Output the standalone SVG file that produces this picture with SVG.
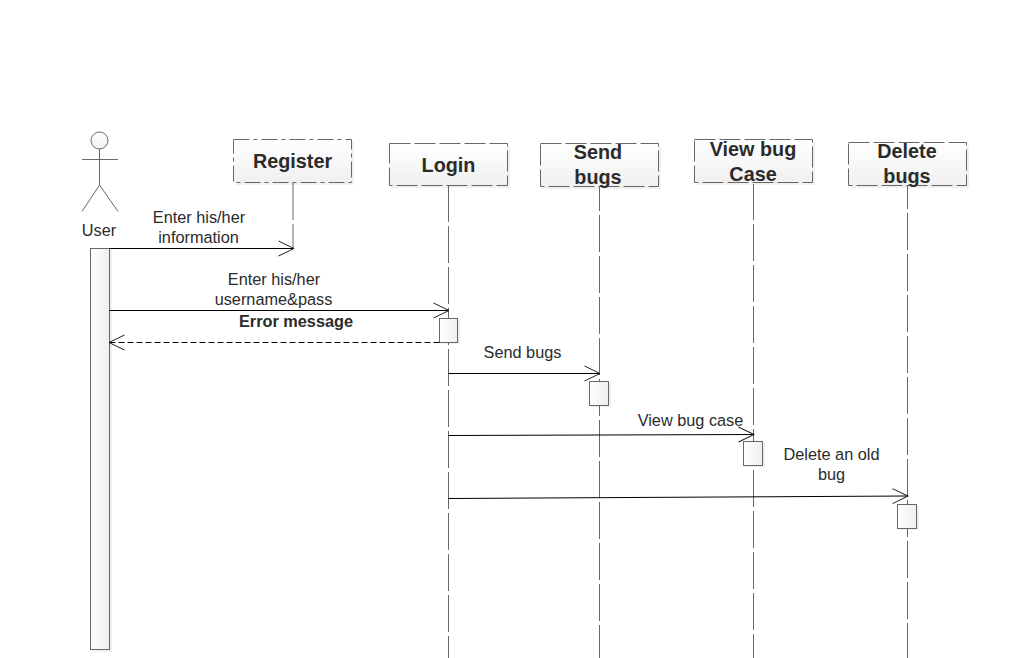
<svg xmlns="http://www.w3.org/2000/svg" width="1036" height="658" viewBox="0 0 1036 658">
<style>
text{font-family:"Liberation Sans",Arial,sans-serif;fill:#2b2b2b;text-anchor:middle}
.m{font-size:16.3px}
.h{font-size:19.8px;font-weight:bold}
.box{fill:url(#g);stroke:#666;stroke-width:1;stroke-dasharray:21 4}
.dd{stroke-dasharray:16 4 4 4}
.sh{fill:#000;opacity:.06}
.life{stroke:#666;stroke-width:1;stroke-dasharray:37 4;fill:none}
.msg{stroke:#000;stroke-width:1;fill:none;marker-end:url(#a)}
.act{fill:url(#g2);stroke:#666;stroke-width:1}
.fig{stroke:#666;stroke-width:1;fill:none}
</style>
<defs>
<linearGradient id="g" x1="0" y1="0" x2="0" y2="1"><stop offset="0" stop-color="#fff"/><stop offset="1" stop-color="#f0f0f0"/></linearGradient>
<linearGradient id="g2" x1="0" y1="0" x2="1" y2="0"><stop offset="0" stop-color="#fff"/><stop offset="1" stop-color="#efefef"/></linearGradient>
<marker id="a" markerUnits="userSpaceOnUse" markerWidth="18" markerHeight="18" refX="16.5" refY="9" orient="auto"><path d="M1 1.500L16.500 9L1 16.500" fill="none" stroke="#222" stroke-width="1"/></marker>
</defs>
<rect width="1036" height="658" fill="#fff"/>
<g id="lifelines">
<path class="life" d="M293 183V248" stroke-dasharray="none"/>
<path class="life" d="M448.500 186V658" stroke-dashoffset="1"/>
<path class="life" d="M599.500 187V658" stroke-dashoffset="13"/>
<path class="life" d="M753.500 184V658" stroke-dashoffset="1"/>
<path class="life" d="M907.500 186V658" stroke-dashoffset="14"/>
</g>
<g id="user">
<circle cx="99.500" cy="140.500" r="8.500" fill="url(#g)" stroke="#666"/>
<path class="fig" d="M99.500 149V185M82 159.500H118M99.500 185L82 211.500M99.500 185L118 211.500"/>
<text class="m" x="99" y="235.500">User</text>
<rect class="sh" x="92" y="250" width="20" height="402"/>
<rect class="act" x="90.500" y="248.500" width="19" height="401"/>
</g>
<g id="register">
<rect class="sh" x="236" y="142" width="118" height="43"/>
<rect class="box dd" x="233.500" y="139.500" width="118" height="43"/>
<text class="h" x="292.500" y="168">Register</text>
</g>
<g id="login">
<rect class="sh" x="392" y="146" width="118" height="42"/>
<rect class="box" x="389.500" y="143.500" width="118" height="42"/>
<text class="h" x="448.500" y="172">Login</text>
<rect class="sh" x="441" y="320" width="19" height="24"/>
<rect class="act" x="439.500" y="318.500" width="18" height="24"/>
</g>
<g id="send-bugs">
<rect class="sh" x="543" y="146" width="118" height="43"/>
<rect class="box" x="540.500" y="143.500" width="118" height="43"/>
<text class="h" x="598" y="159">Send</text>
<text class="h" x="598" y="184">bugs</text>
<rect class="sh" x="591" y="383" width="20" height="24"/>
<rect class="act" x="589.500" y="381.500" width="19" height="24"/>
</g>
<g id="view-bug-case">
<rect class="sh" x="697" y="142" width="118" height="43"/>
<rect class="box" x="694.500" y="139.500" width="118" height="43"/>
<text class="h" x="753" y="156">View bug</text>
<text class="h" x="753" y="181">Case</text>
<rect class="sh" x="745" y="443" width="20" height="24"/>
<rect class="act" x="743.500" y="441.500" width="19" height="24"/>
</g>
<g id="delete-bugs">
<rect class="sh" x="851" y="145" width="118" height="43"/>
<rect class="box" x="848.500" y="142.500" width="118" height="43"/>
<text class="h" x="907" y="158">Delete</text>
<text class="h" x="907" y="183">bugs</text>
<rect class="sh" x="899" y="506" width="20" height="24"/>
<rect class="act" x="897.500" y="504.500" width="19" height="24"/>
</g>
<g id="connectors">
<path class="msg" d="M109.500 248.500H294"/>
<path class="msg" d="M109.500 310.500H449"/>
<path class="msg" d="M439.500 342.500H109" stroke-dasharray="6 3"/>
<path class="msg" d="M448.500 373.500H600"/>
<path class="msg" d="M448.500 435.500L754 434.500"/>
<path class="msg" d="M448.500 498.500L908 496"/>
</g>
<g id="labels">
<text class="m" x="199" y="222.500">Enter his/her</text>
<text class="m" x="198.500" y="243">information</text>
<text class="m" x="274" y="284.500">Enter his/her</text>
<text class="m" x="273.500" y="305">username&amp;pass</text>
<text class="m" x="296" y="326.500" font-weight="bold">Error message</text>
<text class="m" x="522.500" y="357.500">Send bugs</text>
<text class="m" x="690.500" y="426">View bug case</text>
<text class="m" x="831.500" y="460">Delete an old</text>
<text class="m" x="831.500" y="480">bug</text>
</g>
</svg>
